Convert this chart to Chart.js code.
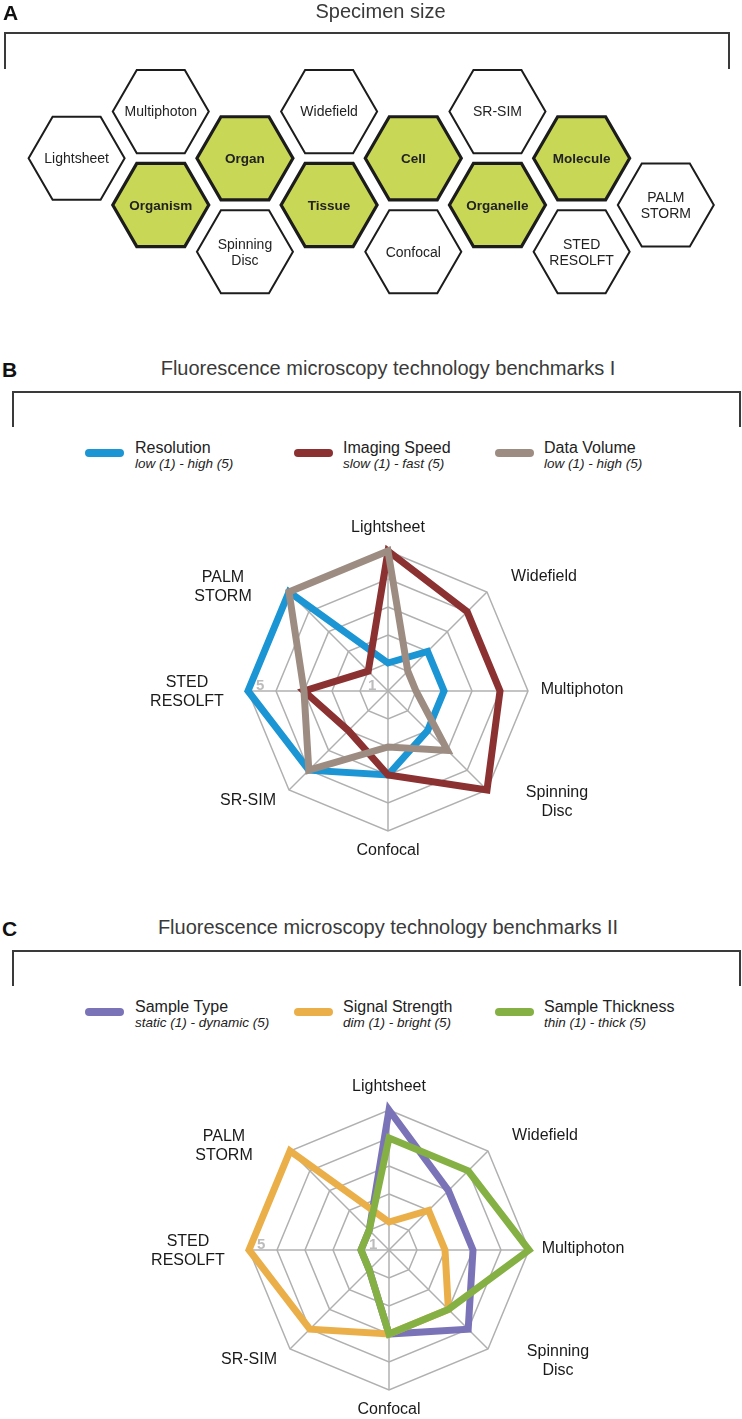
<!DOCTYPE html>
<html>
<head>
<meta charset="utf-8">
<script src="https://cdn.jsdelivr.net/npm/chart.js@4.4.1/dist/chart.umd.min.js"></script>
<style>
html,body{margin:0;padding:0;background:#fff;}
body{width:742px;height:1419px;position:relative;overflow:hidden;font-family:"Liberation Sans",Arial,Helvetica,sans-serif;color:#222;}
.abs{position:absolute;white-space:nowrap;}
.letter{font-weight:bold;font-size:21px;line-height:21px;color:#111;}
.title{font-size:20px;line-height:20px;color:#3a3a3a;}
.bracket{position:absolute;border:2px solid #3a3a3a;border-bottom:none;box-sizing:border-box;}
.sw{position:absolute;height:8px;border-radius:4px;}
.lt{position:absolute;font-size:16px;line-height:16px;white-space:nowrap;color:#222;}
.ls{position:absolute;font-size:13.5px;line-height:13.5px;font-style:italic;white-space:nowrap;color:#222;}
canvas{position:absolute;left:0;}
</style>
</head>
<body>
<canvas id="hex" width="742" height="310" style="top:0"></canvas>
<canvas id="radarB" width="742" height="420" style="top:481px"></canvas>
<canvas id="radarC" width="742" height="420" style="top:1040px"></canvas>
<div id="overlay"></div>
<script>
// ---------- DATA ----------
// Panel A: specimen-size / technique honeycomb
const hexNames  = ['Lightsheet','Multiphoton','Organism','Organ','Spinning\nDisc','Widefield','Tissue','Cell','Confocal','SR-SIM','Organelle','Molecule','STED\nRESOLFT','PALM\nSTORM'];
const hexCol    = [0,1,1,2,2,3,3,4,4,5,5,6,6,7];
const hexRow    = [1,0,2,1,3,0,2,1,3,0,2,1,3,2];
const hexIsSize = [false,false,true,true,false,false,true,true,false,false,true,true,false,false];

// Panels B and C: radar categories (clockwise from top)
const techLabels = [['Lightsheet'],['Widefield'],['Multiphoton'],['Spinning','Disc'],['Confocal'],['SR-SIM'],['STED','RESOLFT'],['PALM','STORM']];
const shownTicks = [1,5];

// Panel B series
const resolution   = [1,2,2,2,3,4,5,5];
const imagingSpeed = [5,4,4,5,3,2,3,1];
const dataVolume   = [5,1,1,3,2,4,3,5];
const seriesB      = ['Resolution','Imaging Speed','Data Volume'];
const rangesB      = ['low (1) - high (5)','slow (1) - fast (5)','low (1) - high (5)'];

// Panel C series
const sampleType      = [5,3,3,4,3,1,1,1];
const signalStrength  = [1,2,2,3,3,4,5,5];
const sampleThickness = [4,4,5,3,3,1,1,1];
const seriesC         = ['Sample Type','Signal Strength','Sample Thickness'];
const rangesC         = ['static (1) - dynamic (5)','dim (1) - bright (5)','thin (1) - thick (5)'];

// ---------- STYLE ----------
const colB = ['#1b95d3','#8c3131','#9d8c81'];
const colC = ['#7a73b7','#ebaf4a','#85b043'];
const FONT = '"Liberation Sans", Arial, Helvetica, sans-serif';

// ---------- STATIC TEXT / BRACKETS ----------
const ov = document.getElementById('overlay');
function add(html){ ov.insertAdjacentHTML('beforeend', html); }
add('<div class="abs letter" style="left:3px;top:2px">A</div>');
add('<div class="abs title" style="left:0;width:761px;text-align:center;top:1px">Specimen size</div>');
add('<div class="bracket" style="left:4px;top:32px;width:726px;height:37px"></div>');

function panel(letter, title, dy, names, ranges, cols){
  add('<div class="abs letter" style="left:2px;top:'+(359+dy)+'px">'+letter+'</div>');
  add('<div class="abs title" style="left:0;width:776px;text-align:center;top:'+(358+dy)+'px">'+title+'</div>');
  add('<div class="bracket" style="left:12px;top:'+(391+dy)+'px;width:729px;height:36px"></div>');
  const swX = [85,294,495], txX = [135,343,544];
  names.forEach((n,i)=>{
    add('<div class="sw" style="left:'+swX[i]+'px;top:'+(449+dy)+'px;width:39px;background:'+cols[i]+'"></div>');
    add('<div class="lt" style="left:'+txX[i]+'px;top:'+(440+dy)+'px">'+n+'</div>');
    add('<div class="ls" style="left:'+txX[i]+'px;top:'+(457+dy)+'px">'+ranges[i]+'</div>');
  });
}
panel('B','Fluorescence microscopy technology benchmarks I',0,seriesB,rangesB,colB);
panel('C','Fluorescence microscopy technology benchmarks II',558.5,seriesC,rangesC,colC);

// ---------- PANEL A: honeycomb through a scatter chart ----------
const hexPlugin = {
  id:'hexes',
  afterDatasetsDraw(chart){
    const ctx = chart.ctx, meta = chart.getDatasetMeta(0), R = 48;
    meta.data.forEach((pt,i)=>{
      const x = pt.x, y = pt.y;
      ctx.save();
      ctx.beginPath();
      for(let k=0;k<6;k++){
        const a = Math.PI/3*k, px = x+R*Math.cos(a), py = y+R*Math.sin(a);
        if(k) ctx.lineTo(px,py); else ctx.moveTo(px,py);
      }
      ctx.closePath();
      const big = hexIsSize[i];
      ctx.fillStyle = big ? '#c8d755' : '#ffffff';
      ctx.fill();
      ctx.lineJoin = 'miter';
      ctx.lineWidth = big ? 3.2 : 2;
      ctx.strokeStyle = '#1c1c1c';
      ctx.stroke();
      ctx.fillStyle = '#222';
      ctx.textAlign = 'center';
      ctx.textBaseline = 'middle';
      ctx.font = (big ? 'bold 13.5px ' : '14px ') + FONT;
      const lines = hexNames[i].split('\n');
      lines.forEach((l,j)=>ctx.fillText(l, x, y + 1 + (j-(lines.length-1)/2)*16));
      ctx.restore();
    });
  }
};
new Chart(document.getElementById('hex'), {
  type:'scatter',
  data:{datasets:[{data:hexCol.map((c,i)=>({x:c,y:hexRow[i]})), pointRadius:0, showLine:false}]},
  options:{
    responsive:false, animation:false, devicePixelRatio:1,
    layout:{padding:{left:76.6,right:76.2,top:111.6,bottom:58.3}},
    plugins:{legend:{display:false},tooltip:{enabled:false}},
    scales:{
      x:{type:'linear',min:0,max:7,display:false},
      y:{type:'linear',min:0,max:3,reverse:true,display:false}
    }
  },
  plugins:[hexPlugin]
});

// ---------- PANELS B, C: radar charts ----------
const labelOffsets = [[0,-23],[57,-15],[54,-1],[70,12],[0,20],[-41,11],[-61,1],[-66,-5]];
const radarText = {
  id:'radarText',
  afterDraw(chart){
    const s = chart.scales.r, ctx = chart.ctx;
    ctx.save();
    ctx.font = '16px ' + FONT;
    ctx.fillStyle = '#1a1a1a';
    ctx.textAlign = 'center';
    ctx.textBaseline = 'middle';
    chart.data.labels.forEach((lab,i)=>{
      const p = s.getPointPosition(i, s.drawingArea);
      const cx = p.x + labelOffsets[i][0], cy = p.y + labelOffsets[i][1];
      lab.forEach((line,j)=>ctx.fillText(line, cx, cy + (j-(lab.length-1)/2)*19));
    });
    ctx.font = 'bold 15px ' + FONT;
    ctx.fillStyle = '#bcbcbc';
    ctx.textAlign = 'left';
    ctx.textBaseline = 'alphabetic';
    shownTicks.forEach(v=>{
      const p = s.getPointPositionForValue(6, v);
      ctx.fillText(String(v), p.x + 8, p.y - 1);
    });
    ctx.restore();
  }
};
function radar(id, padLeft, sets){
  new Chart(document.getElementById(id), {
    type:'radar',
    data:{labels:techLabels, datasets:sets.map(d=>({label:d[0], data:d[1], borderColor:d[2], borderWidth:7, backgroundColor:'transparent', fill:false, clip:false, pointRadius:0, borderJoinStyle:'miter'}))},
    options:{
      responsive:false, animation:false, devicePixelRatio:1,
      layout:{padding:{left:padLeft,right:742-padLeft-280,top:70,bottom:70}},
      plugins:{legend:{display:false},tooltip:{enabled:false}},
      elements:{line:{borderWidth:7,tension:0,borderJoinStyle:'miter',borderCapStyle:'butt'},point:{radius:0,hoverRadius:0}},
      scales:{r:{
        min:0,max:5,
        ticks:{stepSize:1,display:false},
        pointLabels:{display:false},
        grid:{color:'#b0b0b0',lineWidth:1.5},
        angleLines:{color:'#b0b0b0',lineWidth:1.5}
      }}
    },
    plugins:[radarText]
  });
}
// first dataset is drawn on top
radar('radarB', 248, [[seriesB[2],dataVolume,colB[2]],[seriesB[1],imagingSpeed,colB[1]],[seriesB[0],resolution,colB[0]]]);
radar('radarC', 249, [[seriesC[2],sampleThickness,colC[2]],[seriesC[1],signalStrength,colC[1]],[seriesC[0],sampleType,colC[0]]]);
</script>
</body>
</html>
